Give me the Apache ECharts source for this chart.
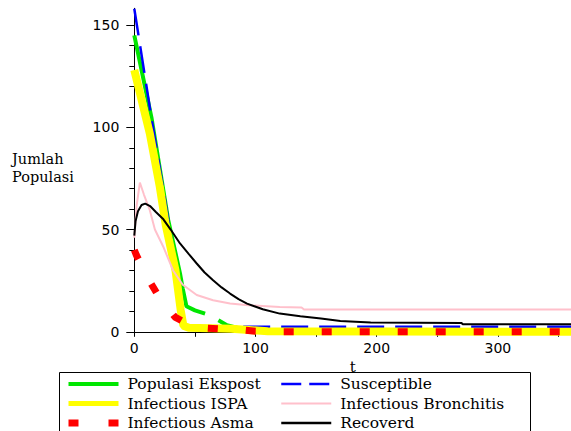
<!DOCTYPE html>
<html>
<head>
<meta charset="utf-8">
<script src="https://cdn.jsdelivr.net/npm/echarts@6/dist/echarts.min.js"></script>
<style>
html,body{margin:0;padding:0;background:#fff;}
#c{width:571px;height:431px;}
</style>
</head>
<body>
<div id="c"></div>
<script>
// ---- data (t, value) ----
var ekspost = [[0,145],[14.3,104.3],[28,54.6],[37.7,28.6],[40,21],[43,12.5],[50,10.5],[58.4,8.9],[64,null],[69.4,5.6],[76.4,3.2],[90,1.2],[110,0.5],[360.3,0.3]];
var susceptible = [[0,158],[14.3,104],[28,55],[42,2.5],[360.3,2.5]];
var ispa = [[0,128],[12.8,97],[21,71],[26,52],[34,30],[38.3,10.5],[40.5,3],[45,2],[80,1.5],[110,0.3],[360.3,0]];
var bronchitis = [[0,46],[2,62],[4.6,73],[8,67],[12.8,59.5],[17,50],[24,41.5],[32,30],[40,23],[51.5,18],[65,15.4],[79,13.8],[94,13],[120,12.1],[138,11.9],[140,10.9],[360.3,10.9]];
var asma = [[0,40],[1.8,37.4],[11.4,26],[21.1,16.3],[33.6,7.2],[44,3.8],[54.3,2],[70,1.4],[84.7,1.1],[100,0.3],[120,0],[360.3,0]];
var recoverd = [[0,47],[1,54],[3,59],[6,62],[9,62.7],[13,61.5],[18,58.5],[24,55],[30,50],[37.7,43.2],[45,38],[51.5,33.4],[58,29],[65,25.2],[72,21.7],[79,18.7],[86,16],[93,13.8],[106,11],[120,8.9],[137,7.6],[154,6.5],[170,5.3],[195,4.6],[270,4.3],[271,3.7],[360.3,3.7]];

var seriesNames = ['Populasi Ekspost','Susceptible','Infectious ISPA','Infectious Bronchitis','Infectious Asma','Recoverd'];
var xLabelValues = [0,100,200,300];
var xTickValues = [0,50,100,150,200,250,300,350];
var yLabelValues = [0,50,100,150];
var yMinorTickValues = [0,10,20,30,40,50,60,70,80,90,100,110,120,130,140,150];

var chart = echarts.init(document.getElementById('c'), null, {renderer:'svg'});
var serif = 'DejaVu Serif';
var sans = 'DejaVu Sans';

function line(name, data, color, width, type, extra){
  var s = {name:name, type:'line', data:data, symbol:'none', showSymbol:false,
    lineStyle:{color:color, width:width, type:type||'solid'}, itemStyle:{color:color},
    animation:false, silent:true};
  if (extra) for (var k in extra) s[k]=extra[k];
  return s;
}

var legendText = {fontFamily:serif, fontSize:15.5, lineHeight:16, color:'#000', padding:[0,0,0,4]};
var hideSym = {opacity:0, borderWidth:0};

chart.setOption({
  animation:false,
  grid:{left:134.3, right:0, top:8.3, bottom:99.2, containLabel:false},
  xAxis:{type:'value', min:0, max:360.3, z:3,
    name:'t', nameLocation:'middle', nameGap:24,
    nameTextStyle:{fontFamily:serif, fontSize:15, color:'#000'},
    axisLine:{lineStyle:{color:'#000', width:1}},
    axisTick:{show:true, length:5, customValues:xTickValues, lineStyle:{color:'#000'}},
    axisLabel:{customValues:xLabelValues, margin:9, fontFamily:sans, fontSize:14, color:'#000'},
    splitLine:{show:false}},
  yAxis:[
    {type:'value', min:0, max:158.2, position:'left',
      axisLine:{show:true, lineStyle:{color:'#000', width:1}},
      axisTick:{show:true, length:5, customValues:yMinorTickValues, lineStyle:{color:'#000'}},
      axisLabel:{show:false}, splitLine:{show:false}},
    {type:'value', min:0, max:158.2, position:'left',
      axisLine:{show:false},
      axisTick:{show:true, length:8, customValues:yLabelValues, lineStyle:{color:'#000'}},
      axisLabel:{customValues:yLabelValues, margin:15, fontFamily:sans, fontSize:14, color:'#000'},
      splitLine:{show:false}}
  ],
  legend:[
    {orient:'vertical', left:65, top:376, width:210, height:80, padding:0, itemWidth:50, itemHeight:14, itemGap:3.5,
      selectedMode:false, textStyle:legendText, itemStyle:hideSym,
      data:[{name:seriesNames[0], lineStyle:{width:4}},
            {name:seriesNames[2], lineStyle:{width:5}},
            {name:seriesNames[4], lineStyle:{width:7, type:[10,30]}}]},
    {orient:'vertical', left:280, top:376, width:250, height:80, padding:0, itemWidth:50, itemHeight:14, itemGap:3.5,
      selectedMode:false, textStyle:legendText, itemStyle:hideSym,
      data:[{name:seriesNames[1], lineStyle:{width:2.5, type:[20,8]}},
            {name:seriesNames[3], lineStyle:{width:2}},
            {name:seriesNames[5], lineStyle:{width:2.5}}]}
  ],
  graphic:[
    {type:'rect', shape:{x:59.5, y:372.5, width:471, height:70}, style:{fill:'none', stroke:'#000', lineWidth:1}, silent:true},
    {type:'text', left:12, top:151, style:{text:'Jumlah', font:'14.5px "DejaVu Serif"', fill:'#000'}, silent:true},
    {type:'text', left:12, top:169, style:{text:'Populasi', font:'14.5px "DejaVu Serif"', fill:'#000'}, silent:true}
  ],
  series:[
    line(seriesNames[0], ekspost, '#00e600', 4),
    line(seriesNames[1], susceptible, '#0000ff', 2.5, [27,11]),
    line(seriesNames[2], ispa, '#ffff00', 8, 'solid', {clip:false}),
    line(seriesNames[3], bronchitis, '#ffc0cb', 2),
    line(seriesNames[4], asma, '#ff0000', 7, [10,28], {clip:false, z:4}),
    line(seriesNames[5], recoverd, '#000000', 2, 'solid', {z:4})
  ]
});
</script>
</body>
</html>
